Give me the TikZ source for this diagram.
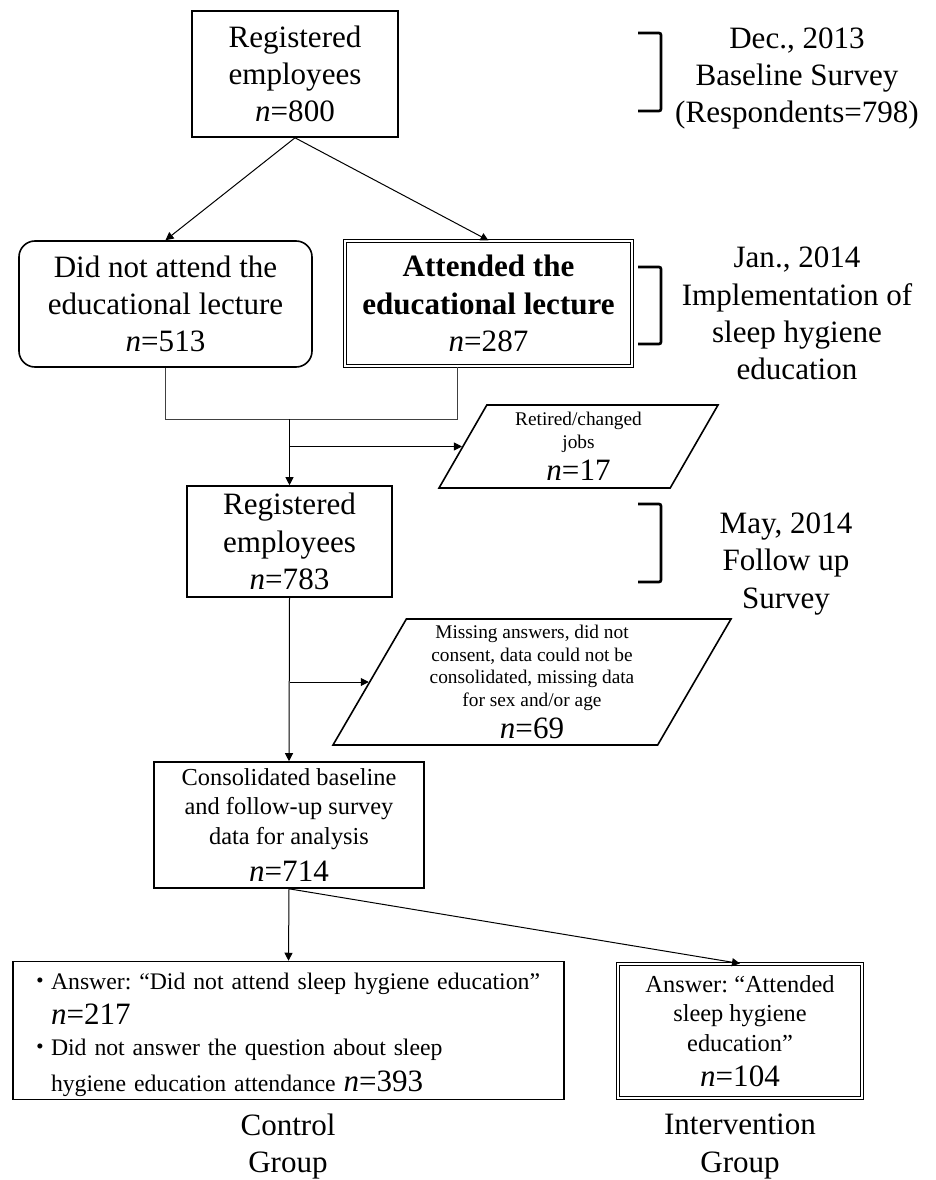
\documentclass[tikz,border=0pt]{standalone}
\usepackage{fontspec}
\setmainfont{Liberation Serif}
\newfontfamily\cjk{Noto Sans CJK JP}
\usetikzlibrary{arrows.meta,shapes.geometric}
\lineskiplimit=-100pt
\frenchspacing
\newcommand\pxu{0.75pt}
\newcommand\bigf{\fontsize{23.3pt}{28pt}\selectfont}
\newcommand\medf{\fontsize{18.3pt}{22pt}\selectfont}
\newcommand\ctrlf{\fontsize{17.8pt}{22pt}\selectfont}
\newcommand\smf{\fontsize{14.5pt}{16.8pt}\selectfont}
\newcommand\nval[1]{{\bigf\textit{n}=#1}}
\newcommand\bul{\makebox[18pt]{\hspace{2pt}\cjk ・}}
\tikzset{
  box/.style={draw, line width=1.2pt, align=center, inner sep=2pt},
  dbox/.style={box, double, double distance=1.5pt, line width=0.75pt},
  para/.style={draw, line width=1.2pt, trapezium, trapezium stretches body=true,
    align=center, inner sep=1pt},
  arr/.style={-{Triangle[length=6pt,width=6pt]}, line width=0.75pt},
  link/.style={line width=0.75pt, draw=black!75},
  brk/.style={line width=2pt, rounded corners=1.5pt},
  lbl/.style={align=center, font=\bigf, inner sep=0pt}
}
\begin{document}
\begin{tikzpicture}[x=0.75pt,y=-0.75pt]
\path[use as bounding box] (0,0) rectangle (935,1180);

% flow boxes
\node[box, minimum width=206*\pxu, minimum height=126*\pxu, font=\bigf] (reg1) at (295,74)
  {Registered\\employees\\\textit{n}=800};
\node[box, rounded corners=12pt, minimum width=293*\pxu, minimum height=126*\pxu, font=\bigf]
  (noatt) at (165.5,304) {Did not attend the\\educational lecture\\\textit{n}=513};
\node[dbox, minimum width=287*\pxu, minimum height=125*\pxu, font=\bigf] (att) at (488.5,303.5)
  {\textbf{Attended the}\\\textbf{educational lecture}\\\textit{n}=287};
\node[para, trapezium left angle=56, trapezium right angle=124,
  minimum width=279*\pxu, minimum height=83*\pxu, font=\smf] (ret) at (578.5,446.5)
  {Retired/changed\\jobs\\[7.5pt]\nval{17}};
\node[box, minimum width=205*\pxu, minimum height=111*\pxu, font=\bigf] (reg2) at (289.5,541.5)
  {Registered\\employees\\\textit{n}=783};
\node[para, trapezium left angle=57.6, trapezium right angle=122.4,
  minimum width=398*\pxu, minimum height=126*\pxu, font=\smf] (miss) at (532,682)
  {Missing answers, did not\\consent, data could not be\\consolidated, missing data\\for sex and/or age\\[7.2pt]\nval{69}};
\node[box, minimum width=270*\pxu, minimum height=126*\pxu, font=\medf] (cons) at (289,825)
  {Consolidated baseline\\and follow-up survey\\data for analysis\\[5.8pt]\nval{714}};
\node[box, minimum width=551*\pxu, minimum height=135*\pxu, text width=523*\pxu,
  align=left, font=\ctrlf] (ctrl) at (288.5,1030.5)
  {\mbox{\rule{0pt}{19pt}\bul Answer: “Did not attend sleep hygiene education”}\\[4.3pt]
   \mbox{\hspace*{18pt}\nval{217}}\\[1.3pt]
   \mbox{\bul Did not answer the question about sleep}\\[5pt]
   \mbox{\hspace*{18pt}hygiene education attendance \nval{393}}};
\node[dbox, minimum width=244*\pxu, minimum height=134*\pxu, font=\medf] (int) at (740,1031)
  {Answer: “Attended\\sleep hygiene\\education”\\[4.3pt]\nval{104}};

% side labels
\node[lbl] (dec) at (797,78.4) {Dec., 2013\\Baseline Survey\\(Respondents=798)};
\node[lbl] (jan) at (797,313.5) {Jan., 2014\\Implementation of\\sleep hygiene\\education};
\node[lbl] (may) at (786,563.8) {May, 2014\\Follow up\\Survey};
\node[lbl] (ctl) at (288,1146.4) {Control\\Group};
\node[lbl] (ivl) at (740,1146.4) {Intervention\\Group};

% brackets
\draw[brk] (638,33) -- (661,33) -- (661,111) -- (638,111);
\draw[brk] (638,267) -- (661,267) -- (661,344) -- (638,344);
\draw[brk] (638,504) -- (661,504) -- (661,582) -- (638,582);

% connectors
\draw[arr] (reg1.south) -- (noatt.north);
\draw[arr] (reg1.south) -- (att.north);
\coordinate (mL) at (165.5,419);
\coordinate (mR) at (457,419);
\coordinate (mC) at (289.5,419);
\draw[link] (noatt.south) -- (mL) -- (mR) -- (mR |- att.south);
\draw[arr] (mC) -- (reg2.north);
\draw[arr] (mC |- ret.west) -- (ret.west);
\draw[arr] (reg2.south) -- (cons.north);
\draw[arr] (reg2.south |- miss.west) -- (miss.west);
\draw[arr] (cons.south) -- (ctrl.north);
\draw[arr] (cons.south) -- (int.north);
\end{tikzpicture}
\end{document}
